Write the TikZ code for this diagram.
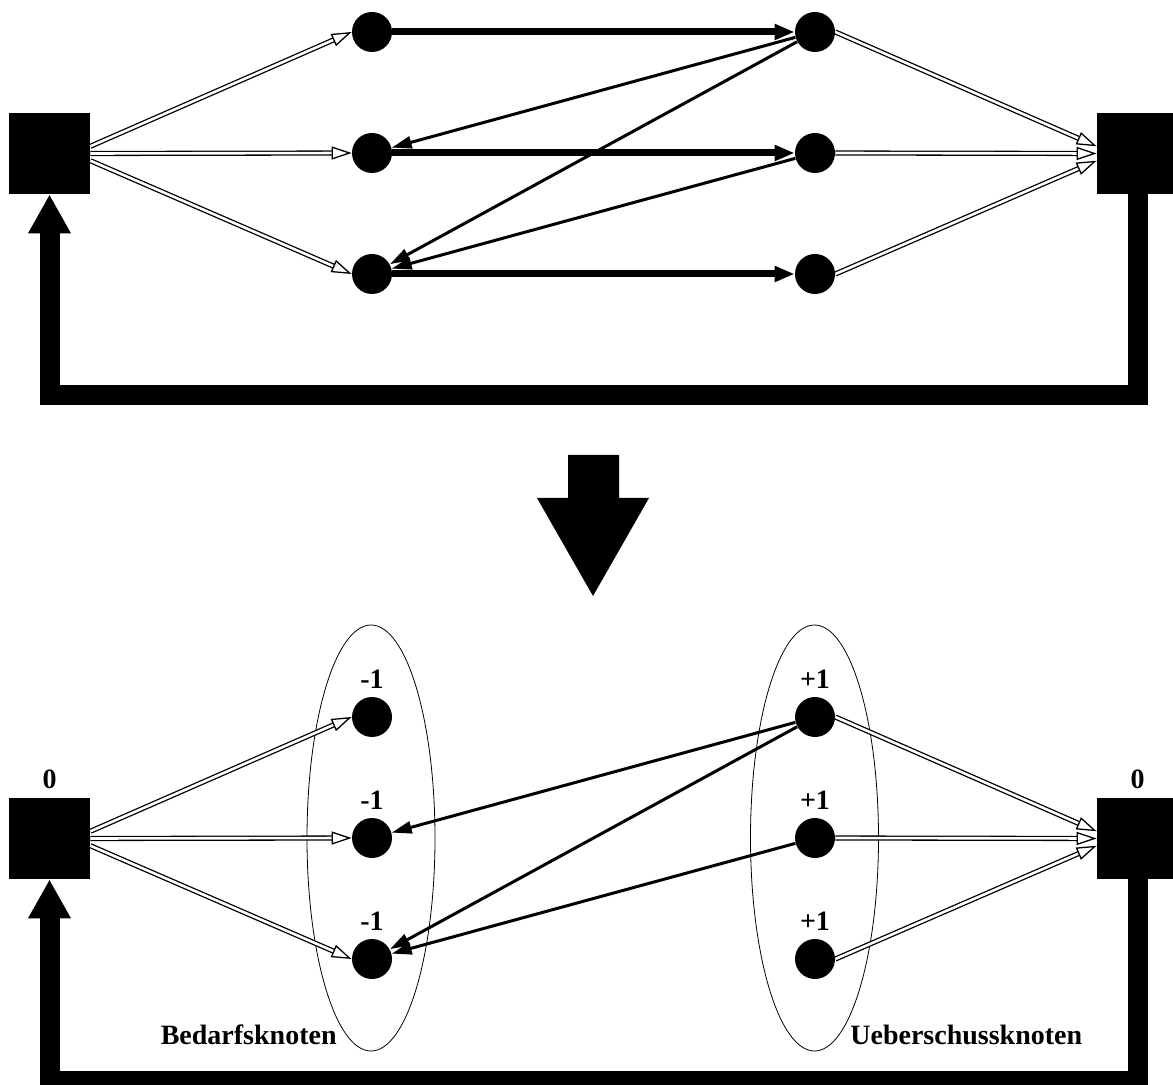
\documentclass[tikz,border=0pt]{standalone}
\usepackage{fontspec}
\setmainfont{Liberation Serif}
\usetikzlibrary{arrows.meta,shapes.geometric}
\tikzset{
dot/.style={circle,fill=black,minimum size=20pt,inner sep=0pt},
box/.style={rectangle,fill=black,minimum size=40.5pt,inner sep=0pt},
num/.style={font=\bfseries\fontsize{14pt}{16pt}\selectfont,inner sep=0pt},
grplbl/.style={font=\bfseries\fontsize{14pt}{16pt}\selectfont,inner sep=0pt},
menge/.style={ellipse,draw,line width=0.4pt,minimum width=64pt,minimum height=213pt,inner sep=0pt},
supply/.style={double,line width=0.65pt,double distance=1.3pt,-{Triangle[open,fill=white,length=10pt,width=6.5pt]}},
flow/.style={line width=3.5pt,-{Triangle[length=10pt,width=7.5pt]}},
back/.style={line width=1.5pt,-{Triangle[length=10pt,width=6pt]}},
retour/.style={line width=10pt,-{Triangle[length=19.5pt,width=20pt]}}
}
\begin{document}
\begin{tikzpicture}[x=0.5pt,y=-0.5pt,label distance=4pt]
\useasboundingbox (0,0) rectangle (1173,1085);
\node[box] (q1) at (49.5,153.5) {};
\node[box] (s1) at (1137.5,153.5) {};
\foreach \i/\y in {1/32,2/153,3/274}{
\node[dot] (a\i) at (372,\y) {};
\node[dot] (b\i) at (815,\y) {};
\draw[flow] (a\i) -- (b\i);
}
\draw[supply] (q1.10) -- (a1.west);
\draw[supply] (q1.east) -- (a2.west);
\draw[supply] (q1.-10) -- (a3.west);
\draw[supply] (b1.east) -- (s1.170);
\draw[supply] (b2.east) -- (s1.west);
\draw[supply] (b3.east) -- (s1.190);
\draw[back] (b1) -- (a2);
\draw[back] (b1) -- (a3);
\draw[back] (b2) -- (a3);
\coordinate (k1) at (49.5,395.5);
\draw[retour] (s1.south) |- (k1) -- (q1.south);
\fill (568,455) -- (619,455) -- (619,498) -- (649,498) -- (593,596) -- (537,498) -- (568,498) -- cycle;
\node[menge] (bedarf) at (371,838) {};
\node[menge] (ueber) at (814.5,838) {};
\node[box,label={[num]above:0}] (q2) at (49.5,838.5) {};
\node[box,label={[num]above:0}] (s2) at (1137.5,838.5) {};
\foreach \i/\y in {1/717,2/838,3/959}{
\node[dot,label={[num]above:{-1}}] (c\i) at (372,\y) {};
\node[dot,label={[num]above:{+1}}] (d\i) at (815,\y) {};
}
\draw[supply] (q2.10) -- (c1.west);
\draw[supply] (q2.east) -- (c2.west);
\draw[supply] (q2.-10) -- (c3.west);
\draw[supply] (d1.east) -- (s2.170);
\draw[supply] (d2.east) -- (s2.west);
\draw[supply] (d3.east) -- (s2.190);
\draw[back] (d1) -- (c2);
\draw[back] (d1) -- (c3);
\draw[back] (d2) -- (c3);
\coordinate (k2) at (49.5,1080.5);
\draw[retour] (s2.south) |- (k2) -- (q2.south);
\node[grplbl,anchor=base east] (tb) at (337,1044) {Bedarfsknoten};
\node[grplbl,anchor=base west] (tu) at (850,1044) {Ueberschussknoten};
\end{tikzpicture}
\end{document}
